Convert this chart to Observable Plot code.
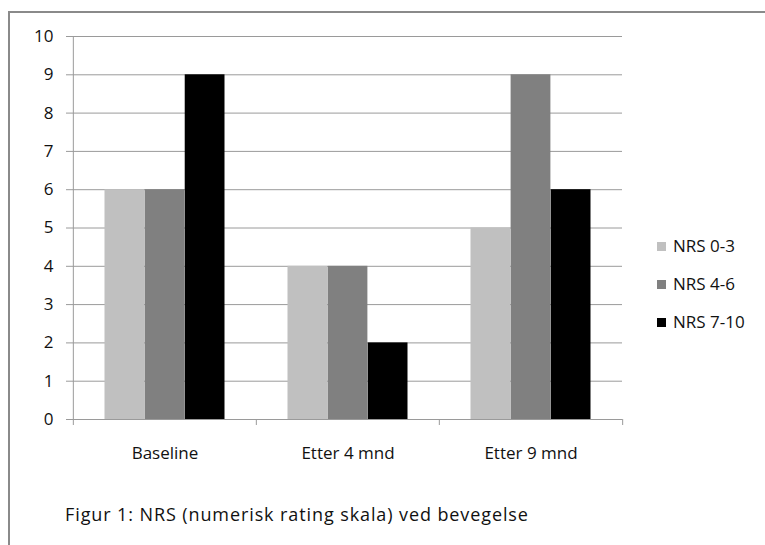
<!DOCTYPE html>
<html>
<head>
<meta charset="utf-8">
<script src="https://cdn.jsdelivr.net/npm/d3@7"></script>
<script src="https://cdn.jsdelivr.net/npm/@observablehq/plot@0.6"></script>
<style>
  body { margin: 0; background: #fff; }
  #wrap { position: relative; width: 765px; height: 545px; overflow: hidden; font-family: "Open Sans", sans-serif; color: #111; }
  #frame { position: absolute; left: 8px; top: 11px; width: 900px; height: 700px; border-left: 2px solid #8a8a8a; border-top: 2px solid #8a8a8a; }
  #chart { position: absolute; left: 0; top: 0; }
  .item { position: absolute; left: 657px; height: 24px; line-height: 24px; font-size: 17px; display: flex; align-items: center; white-space: nowrap; }
  .sw { width: 9px; height: 9px; margin-right: 7px; display: inline-block; }
  #caption { position: absolute; left: 65px; top: 505px; font-size: 18px; line-height: 1; white-space: nowrap; }
</style>
</head>
<body>
<div id="wrap">
  <div id="frame"></div>
  <div id="chart"></div>
  <div id="legend"></div>
  <div id="caption"></div>
</div>
<script>
const categories = ["Baseline", "Etter 4 mnd", "Etter 9 mnd"];
const seriesNames = ["NRS 0-3", "NRS 4-6", "NRS 7-10"];
const nrs0to3 = [6, 4, 5];
const nrs4to6 = [6, 4, 9];
const nrs7to10 = [9, 2, 6];
const yTicks = [0, 1, 2, 3, 4, 5, 6, 7, 8, 9, 10];
const captionText = "Figur 1: NRS (numerisk rating skala) ved bevegelse";

const colors = ["#c0c0c0", "#808080", "#000000"];
const gridColor = "#9a9a9a";

const seriesValues = [nrs0to3, nrs4to6, nrs7to10];
const rows = categories.flatMap((c, i) =>
  seriesNames.map((s, j) => ({cat: c, series: s, value: seriesValues[j][i]}))
);

const W = 765, H = 545;
const mL = 72, mR = 143, mT = 36, mB = 126;
const bandW = (W - mL - mR) / categories.length;
const gap = 31.5;
const barW = (bandW - 2 * gap) / seriesNames.length;

const chart = Plot.plot({
  width: W,
  height: H,
  marginLeft: mL,
  marginRight: mR,
  marginTop: mT,
  marginBottom: mB,
  style: {fontFamily: "Open Sans, sans-serif", fontSize: "17px", color: "#111", background: "transparent"},
  x: {type: "band", domain: categories, padding: 0},
  y: {domain: [0, 10]},
  color: {domain: seriesNames, range: colors},
  marks: [
    Plot.gridY(yTicks, {stroke: gridColor, strokeOpacity: 1}),
    ...seriesNames.map((s, j) =>
      Plot.barY(rows.filter(d => d.series === s), {
        x: "cat", y: "value", fill: "series",
        insetLeft: gap + j * barW,
        insetRight: bandW - gap - (j + 1) * barW
      })
    ),
    Plot.ruleY([0], {stroke: gridColor}),
    Plot.ruleX([categories[0]], {x: d => d, y1: 0, y2: 10, dx: -bandW / 2, stroke: gridColor}),
    Plot.axisY(yTicks, {tickSize: 6, tickPadding: 13, stroke: gridColor, strokeOpacity: 1, fill: "#111", fontSize: 17, label: null}),
    Plot.axisX(categories, {tickSize: 6, fill: "none", stroke: gridColor, strokeOpacity: 1, dx: -bandW / 2, label: null}),
    Plot.axisX([categories[categories.length - 1]], {tickSize: 6, fill: "none", stroke: gridColor, strokeOpacity: 1, dx: bandW / 2, label: null}),
    Plot.axisX(categories, {tickSize: 0, tickPadding: 27, fontSize: 17, fill: "#111", label: null})
  ]
});
document.getElementById("chart").appendChild(chart);

const legend = document.getElementById("legend");
const legendTops = [234, 272, 310];
seriesNames.forEach((s, j) => {
  const item = document.createElement("div");
  item.className = "item";
  item.style.top = legendTops[j] + "px";
  const sw = document.createElement("span");
  sw.className = "sw";
  sw.style.background = colors[j];
  item.appendChild(sw);
  item.appendChild(document.createTextNode(s));
  legend.appendChild(item);
});

// caption: same glyph size as axis text, spaced out to the reference's width (~464px)
const cap = document.getElementById("caption");
cap.textContent = captionText;
const targetW = 464;
const w0 = cap.getBoundingClientRect().width;
const ls = Math.max(0, Math.min(2.5, (targetW - w0) / captionText.length));
cap.style.letterSpacing = ls.toFixed(2) + "px";
</script>
</body>
</html>
